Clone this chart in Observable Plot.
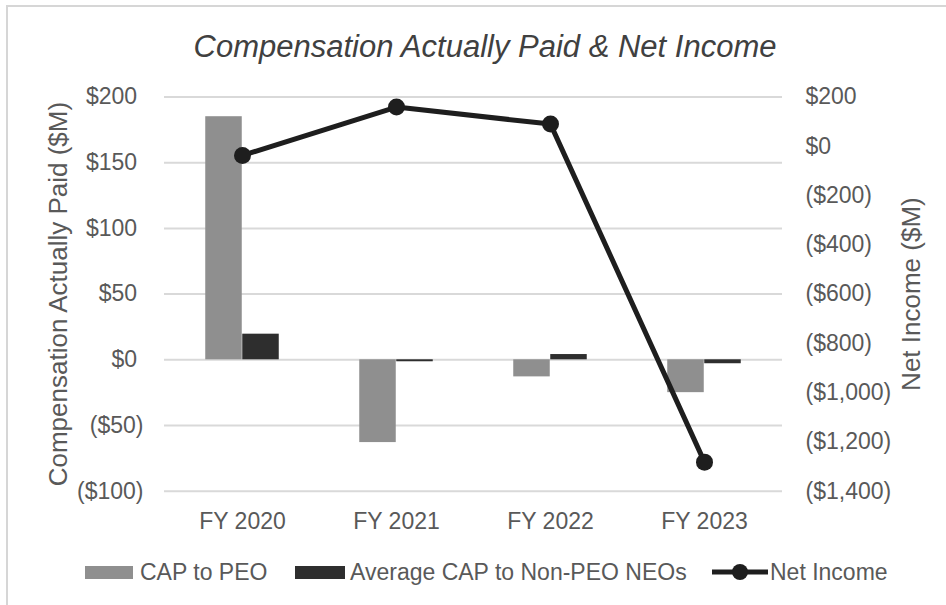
<!DOCTYPE html>
<html>
<head>
<meta charset="utf-8">
<script src="https://cdn.jsdelivr.net/npm/d3@7"></script>
<script src="https://cdn.jsdelivr.net/npm/@observablehq/plot@0.6"></script>
<style>
  html, body { margin: 0; padding: 0; background: #fff; overflow: hidden; width: 946px; height: 605px; }
  #frame { position: absolute; left: 6px; top: 5px; width: 2000px; height: 2000px; border-left: 2px solid #d6d6d6; border-top: 2px solid #d6d6d6; }
  #title { position: absolute; left: 0; top: 27px; width: 970px; text-align: center; line-height: 40px;
           font-family: "Liberation Sans", Arial, sans-serif; font-style: italic; font-size: 31px; color: #404040; }
  #chart { position: absolute; left: 0; top: 0; }
  .lg { position: absolute; font-family: "Liberation Sans", Arial, sans-serif; font-size: 23px; color: #595959; line-height: 28px; top: 558px; white-space: nowrap; }
  .sw { position: absolute; top: 566px; height: 13px; }
</style>
</head>
<body>
<div id="frame"></div>
<div id="title">Compensation Actually Paid &amp; Net Income</div>
<div id="chart"></div>
<div class="sw" style="left:85px;width:48px;background:#8f8f8f"></div>
<div class="lg" style="left:140px">CAP to PEO</div>
<div class="sw" style="left:295px;width:50px;background:#2e2e2e"></div>
<div class="lg" style="left:350px">Average CAP to Non-PEO NEOs</div>
<svg style="position:absolute;left:710px;top:560px" width="60" height="24">
  <line x1="2" y1="12" x2="58" y2="12" stroke="#1e1e1e" stroke-width="5"/>
  <circle cx="30" cy="12" r="8" fill="#1e1e1e"/>
</svg>
<div class="lg" style="left:770px">Net Income</div>
<script>
const years = ["FY 2020", "FY 2021", "FY 2022", "FY 2023"];
const capPEO = [185, -63, -13, -25];
const capNonPEO = [19.5, -1.5, 4, -3];
const netIncome = [-37, 159, 90, -1282];
const leftTicks = [-100, -50, 0, 50, 100, 150, 200];
const rightTicks = [200, 0, -200, -400, -600, -800, -1000, -1200, -1400];

// map the right (net income) axis onto the left (CAP) axis
const L0 = -100, L1 = 200, R0 = -1400, R1 = 200;
const toLeft = v => L0 + (v - R0) * (L1 - L0) / (R1 - R0);
const fromLeft = v => R0 + (v - L0) * (R1 - R0) / (L1 - L0);

const peoData = years.map((year, i) => ({year, value: capPEO[i]}));
const nonData = years.map((year, i) => ({year, value: capNonPEO[i]}));
const niData = years.map((year, i) => ({year, ni: netIncome[i]}));

const money = v => {
  const s = "$" + d3.format(",")(Math.abs(v));
  return v < 0 ? "(" + s + ")" : s;
};
const fmtLeft = v => v < 0 ? money(v) : money(v) + "\u00a0";
const fmtRight = v => money(Math.round(v));

const H = 545;
const chart = Plot.plot({
  width: 946,
  height: H,
  marginLeft: 164,
  marginRight: 164,
  marginTop: 96.5,
  marginBottom: H - 490.7,
  style: {fontFamily: "'Liberation Sans', Arial, sans-serif", fontSize: "23px", color: "#595959", background: "transparent", overflow: "visible"},
  x: {domain: years, padding: 0, axis: null},
  y: {domain: [L0, L1], axis: null},
  marks: [
    Plot.gridY(leftTicks, {stroke: "#d9d9d9", strokeOpacity: 1, strokeWidth: 2}),
    Plot.axisX({tickSize: 0, tickPadding: 21, label: null}),
    Plot.axisY(leftTicks, {anchor: "left", tickSize: 0, tickPadding: 21, tickFormat: fmtLeft, label: null}),
    Plot.axisY(rightTicks.map(toLeft), {anchor: "right", tickSize: 0, tickPadding: 23, textAnchor: "start", tickFormat: d => fmtRight(fromLeft(d)), label: null}),
    Plot.barY(peoData, {x: "year", y: "value", fill: "#8f8f8f", insetLeft: 40.25, insetRight: 77.25}),
    Plot.barY(nonData, {x: "year", y: "value", fill: "#2e2e2e", insetLeft: 77.25, insetRight: 40.25}),
    Plot.line(niData, {x: "year", y: d => toLeft(d.ni), stroke: "#1e1e1e", strokeWidth: 5}),
    Plot.dot(niData, {x: "year", y: d => toLeft(d.ni), r: 8.5, fill: "#1e1e1e"}),
    Plot.text(["Compensation Actually Paid ($M)"], {text: d => d, frameAnchor: "left", textAnchor: "middle", rotate: -90, dx: -106, fontSize: 26, fill: "#595959"}),
    Plot.text(["Net Income ($M)"], {text: d => d, frameAnchor: "right", textAnchor: "middle", rotate: -90, dx: 129, fontSize: 26, fill: "#595959"})
  ]
});
document.getElementById("chart").appendChild(chart);
</script>
</body>
</html>
